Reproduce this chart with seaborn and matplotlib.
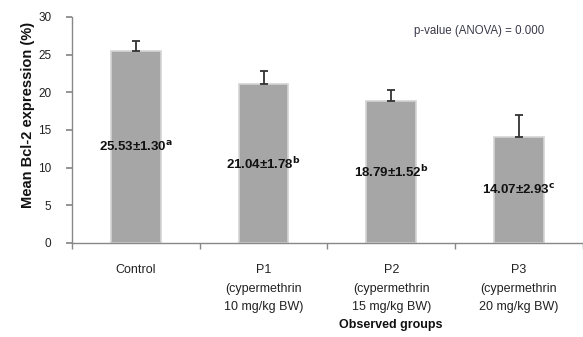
import matplotlib
matplotlib.use("Agg")
import matplotlib.pyplot as plt
import seaborn as sns
import numpy as np

# data
groups = ["Control", "P1\n(cypermethrin\n10 mg/kg BW)",
          "P2\n(cypermethrin\n15 mg/kg BW)", "P3\n(cypermethrin\n20 mg/kg BW)"]
means = [25.53, 21.04, 18.79, 14.07]
sds = [1.30, 1.78, 1.52, 2.93]
letters = ["a", "b", "b", "c"]

sns.set_theme(style="white")
plt.rcParams["font.family"] = ["Liberation Sans", "DejaVu Sans"]

fig = plt.figure(figsize=(5.83, 3.37), dpi=100)
ax = fig.add_axes([0.1235, 0.279, 0.876, 0.671])

sns.barplot(x=groups, y=means, color="#A6A6A6", width=0.39, saturation=1,
            edgecolor="#D4D4D4", linewidth=1.2, ax=ax)

pos = np.arange(len(means))
ax.errorbar(pos, means, yerr=[np.zeros(len(sds)), sds], fmt="none",
            ecolor="#333333", elinewidth=1.3, capsize=3, capthick=1.3)

# value labels in the middle of each bar
for i, (m, s, l) in enumerate(zip(means, sds, letters)):
    ax.text(i, m / 2, f"{m:.2f}±{s:.2f}" + r"$^{\mathbf{" + l + "}}$",
            ha="center", va="center", fontsize=9.5, fontweight="bold",
            family=["Liberation Sans Narrow", "Liberation Sans", "DejaVu Sans"],
            color="#111111")

ax.text(2.69, 28.1, "p-value (ANOVA) = 0.000", ha="center", va="center",
        fontsize=8.3, color="#3a3a4a")

ax.set_xlim(-0.5, 3.5)
ax.set_ylim(0, 30)
ax.set_yticks([0, 5, 10, 15, 20, 25, 30])

for side in ["top", "right"]:
    ax.spines[side].set_visible(False)
for side in ["left", "bottom"]:
    ax.spines[side].set_color("#888888")
    ax.spines[side].set_linewidth(1)

ax.tick_params(axis="y", left=True, length=4, color="#888888", pad=11,
               labelsize=8.5, labelcolor="#222222")
ax.tick_params(axis="x", which="major", length=0, pad=15, labelsize=9,
               labelcolor="#222222")
ax.set_xticks(pos)
ax.set_xticklabels(groups, linespacing=1.75)
ax.set_xticks([-0.5, 0.5, 1.5, 2.5, 3.5], minor=True)
ax.tick_params(axis="x", which="minor", bottom=True, length=4, color="#888888")

ax.set_ylabel("Mean Bcl-2 expression (%)", fontsize=10.5, fontweight="bold",
              color="#111111")
ax.yaxis.set_label_coords(-0.072, 0.566)
ax.set_xlabel("Observed groups", fontsize=9, fontweight="bold", color="#111111")
ax.xaxis.set_label_coords(0.625, -0.336)

fig.savefig("out.png", dpi=100)
